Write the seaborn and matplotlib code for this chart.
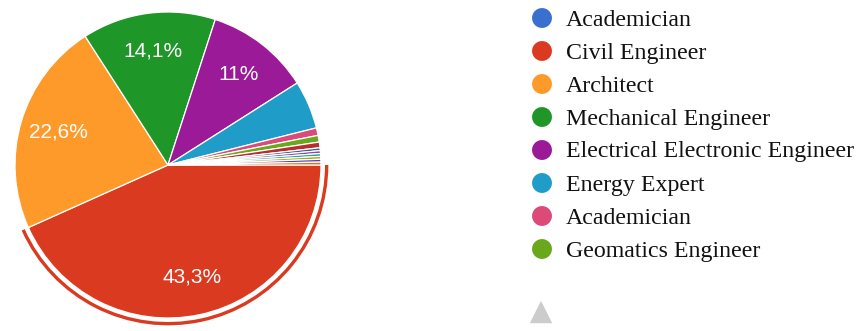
import matplotlib
matplotlib.use("Agg")
import matplotlib.pyplot as plt
from matplotlib.patches import Wedge
import seaborn as sns

# Share of respondents by profession (%)
categories = [
    "Academician", "Civil Engineer", "Architect", "Mechanical Engineer",
    "Electrical Electronic Engineer", "Energy Expert", "Academician",
    "Geomatics Engineer", "City Planner", "Environmental Engineer",
    "Physicist", "Chemical Engineer", "Industrial Engineer",
    "Interior Architect", "Landscape Architect",
]
shares = [0.0, 43.3, 22.6, 14.1, 11.0, 5.1, 0.8, 0.7, 0.6,
          0.3, 0.3, 0.3, 0.3, 0.3, 0.3]
palette = [
    "#3a6fd0", "#da3b20", "#fd9a2a", "#1f9628", "#9a1a98", "#1f9dc8",
    "#dc4a7a", "#69a81a", "#b82e2e", "#316395", "#994499", "#22aa99",
    "#aaaa11", "#6633cc", "#e67300",
]
legend_rows = 8
highlighted = 1

sns.set_theme(style="white")
plt.rcParams["font.family"] = ["Liberation Sans", "DejaVu Sans"]

W, H = 863, 331
fig = plt.figure(figsize=(W / 100, H / 100), dpi=100)

# Legend layer in pixel coordinates
lax = fig.add_axes([0, 0, 1, 1])
lax.set_xlim(0, W)
lax.set_ylim(H, 0)
lax.axis("off")
for i in range(legend_rows):
    y = 18 + 33 * i
    lax.scatter([542], [y], s=205, color=palette[i], edgecolors="none")
    lax.text(566, y + 7.5, categories[i], fontsize=17.2, va="baseline", ha="left",
             color="#111111", family=["Liberation Serif", "DejaVu Serif"])
lax.scatter([541], [312], s=260, marker="^", color="#cccccc", edgecolors="none")

# Pie
cx, cy, R = 168, 165, 153
half = 170
ax = fig.add_axes([(cx - half) / W, (H - cy - half) / H, 2 * half / W, 2 * half / H])
ax.set_facecolor("none")


def pct_label(p):
    if p < 9:
        return ""
    s = f"{p:.1f}"
    if s.endswith(".0"):
        s = s[:-2]
    return s.replace(".", ",") + "%"


wedges, _, autotexts = ax.pie(
    shares, colors=palette, startangle=0, counterclock=False,
    autopct=pct_label, pctdistance=0.75, radius=1.0,
    wedgeprops=dict(edgecolor="white", linewidth=0.9),
    textprops=dict(color="white", fontsize=15),
)
lim = half / R
ax.set_xlim(-lim, lim)
ax.set_ylim(-lim, lim)
ax.set_aspect("equal")
ax.axis("off")

# Outline arc around the highlighted slice
w = wedges[highlighted]
ax.add_patch(Wedge((0, 0), 1.048, w.theta1, w.theta2, width=0.022,
                   facecolor=palette[highlighted], edgecolor="none"))

fig.savefig("out.png", dpi=100)
